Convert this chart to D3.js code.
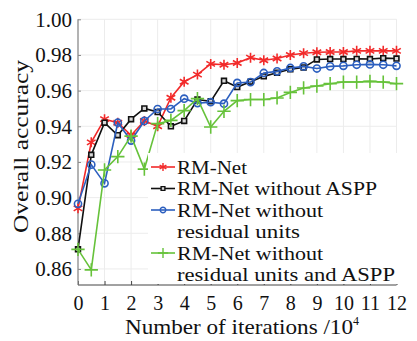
<!DOCTYPE html>
<html><head><meta charset="utf-8">
<script src="https://cdn.jsdelivr.net/npm/d3@7"></script>
<style>
body{margin:0;background:#fff;}
svg text{font-family:"Liberation Serif","Times New Roman",serif;fill:#111;}
</style></head>
<body><svg id="c" width="417" height="341"></svg>
<script>
const iterations = [0,0.5,1,1.5,2,2.5,3,3.5,4,4.5,5,5.5,6,6.5,7,7.5,8,8.5,9,9.5,10,10.5,11,11.5,12];
const rmNet = [0.894,0.931,0.944,0.942,0.935,0.943,0.940,0.956,0.965,0.969,0.975,0.9745,0.9755,0.9785,0.977,0.978,0.980,0.981,0.9815,0.9817,0.9817,0.9823,0.9823,0.9823,0.9823];
const noAspp = [0.871,0.924,0.942,0.935,0.944,0.950,0.948,0.940,0.943,0.955,0.954,0.9655,0.962,0.965,0.968,0.970,0.972,0.973,0.9775,0.9777,0.9777,0.9778,0.9777,0.9782,0.978];
const noResidual = [0.8965,0.9185,0.908,0.942,0.932,0.943,0.9497,0.9497,0.9555,0.953,0.9535,0.9527,0.9643,0.9648,0.9699,0.9708,0.9727,0.9736,0.9724,0.9736,0.9739,0.9745,0.9747,0.9745,0.9739];
const noResidualAspp = [0.871,0.8595,0.9155,0.923,0.9345,0.916,0.9415,0.9433,0.9488,0.9555,0.9396,0.9484,0.9544,0.955,0.955,0.9559,0.959,0.9615,0.9626,0.9639,0.9648,0.9648,0.9652,0.9648,0.9639];
const xTicks = [0,1,2,3,4,5,6,7,8,9,10,11,12];
const yTicks = [0.86,0.88,0.90,0.92,0.94,0.96,0.98,1.00];
const seriesNames = [["RM-Net"],["RM-Net without ASPP"],["RM-Net without","residual units"],["RM-Net without","residual units and ASPP"]];

const series = [
  {name: seriesNames[0], values: rmNet, color: "#f22a2a", symbol: d3.symbolAsterisk, size: 70, fill: "none"},
  {name: seriesNames[1], values: noAspp, color: "#111111", symbol: d3.symbolSquare2, size: 30, fill: "#d8d8d8"},
  {name: seriesNames[2], values: noResidual, color: "#2c5fbf", symbol: d3.symbolCircle, size: 40, fill: "none"},
  {name: seriesNames[3], values: noResidualAspp, color: "#66c23a", symbol: d3.symbolPlus, size: 60, fill: "none"}
];

const svg = d3.select("#c");
const L = 78, R = 396.5, T = 19.3, B = 285;
const x = d3.scaleLinear().domain([0,12]).range([L,R]);
const y = d3.scaleLinear().domain([0.851,1.0]).range([B,T]);

// grid
const g = svg.append("g");
g.selectAll(".gx").data(xTicks.slice(1)).join("line")
  .attr("x1", d=>x(d)).attr("x2", d=>x(d)).attr("y1", T).attr("y2", B)
  .attr("stroke", "#ececec").attr("stroke-width", 1);
g.selectAll(".gy").data(yTicks).join("line")
  .attr("x1", L).attr("x2", R).attr("y1", d=>y(d)).attr("y2", d=>y(d))
  .attr("stroke", "#ececec").attr("stroke-width", 1);

// axes
const xAxis = d3.axisBottom(x).tickValues(xTicks).tickSize(-4).tickPadding(15).tickFormat(d3.format("d"));
const xg = svg.append("g").attr("transform", `translate(0,${B})`).call(xAxis);
xg.select(".domain").attr("stroke", "#444").attr("d", `M${L},0H${R}`);
xg.selectAll(".tick line").attr("stroke", "#444");
xg.selectAll(".tick text").attr("font-size", 20).attr("font-family", "Liberation Serif").attr("fill", "#111").attr("dy", "0.5em");

const yAxis = d3.axisLeft(y).tickValues(yTicks).tickSize(-3).tickPadding(6).tickFormat(d3.format(".2f"));
const yg = svg.append("g").attr("transform", `translate(${L},0)`).call(yAxis);
yg.select(".domain").attr("stroke", "#8a8a8a").attr("stroke-width", 1.3).attr("d", `M0,${T}V${B}`);
yg.selectAll(".tick line").attr("stroke", "#8a8a8a");
yg.selectAll(".tick text").attr("font-size", 21).attr("font-family", "Liberation Serif").attr("fill", "#111");

// lines
const line = d3.line().x((d,i)=>x(iterations[i])).y(d=>y(d));
series.forEach(s => {
  const sg = svg.append("g");
  sg.append("path").attr("d", line(s.values)).attr("fill","none")
    .attr("stroke", s.color).attr("stroke-width", 1.6);
  sg.selectAll("path.m").data(s.values).join("path").attr("class","m")
    .attr("transform", (d,i)=>`translate(${x(iterations[i])},${y(d)})`)
    .attr("d", d3.symbol().type(s.symbol).size(s.size)())
    .attr("fill", s.fill).attr("stroke", s.color).attr("stroke-width", 1.6);
});

// legend
const lg = svg.append("g");
lg.append("rect").attr("x", 148).attr("y", 153).attr("width", 250).attr("height", 131).attr("fill", "#fff");
const rowBase = [173.5, 195, 216.5, 238, 259.5, 281];
const legendWidths = [[70],[200],[146,123],[146,218]];
let row = 0;
series.forEach((s, k) => {
  const yb = rowBase[row];
  const my = yb - 6.5;
  lg.append("line").attr("x1", 151).attr("x2", 175).attr("y1", my).attr("y2", my)
    .attr("stroke", s.color).attr("stroke-width", 1.6);
  lg.append("path").attr("transform", `translate(163,${my})`)
    .attr("d", d3.symbol().type(s.symbol).size(s.size*0.6)())
    .attr("fill", s.fill).attr("stroke", s.color).attr("stroke-width", 1.4);
  s.name.forEach((t, j) => {
    lg.append("text").attr("x", 177).attr("y", rowBase[row]).attr("font-size", 19)
      .attr("textLength", legendWidths[k][j]).attr("lengthAdjust", "spacingAndGlyphs").text(t);
    row++;
  });
});

// axis titles
svg.append("text").attr("transform", "translate(27.5,146.5) rotate(-90)")
  .attr("text-anchor", "middle").attr("font-size", 22)
  .attr("textLength", 173).attr("lengthAdjust", "spacingAndGlyphs").text("Overall accuracy");
const xt = svg.append("text").attr("x", 125).attr("y", 334).attr("font-size", 21);
xt.append("tspan").attr("textLength", 228).attr("lengthAdjust", "spacingAndGlyphs").text("Number of iterations /10");
xt.append("tspan").attr("font-size", 12).attr("dy", -9).text("4");
</script></body></html>
